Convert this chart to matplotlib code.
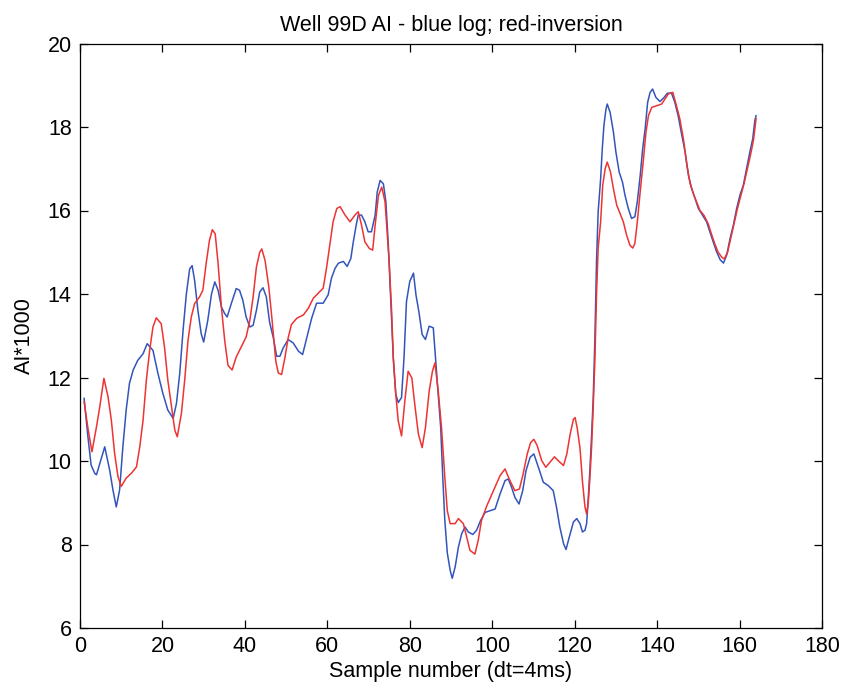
import matplotlib
matplotlib.use("Agg")
import matplotlib.pyplot as plt

# blue: well log AI (sample number, AI*1000)
log_x = [1, 1.9, 2.7, 3.6, 4.0, 4.8, 6.0, 7.2, 8.0, 8.8, 9.6, 10.4, 11.2, 12.0, 12.9, 14.0, 15.3, 16.3,
         17.7, 18.9, 20.1, 21.3, 22.6, 23.4, 24.2, 25.0, 25.8, 26.6, 27.2, 27.8, 28.6, 29.4, 30.0, 31.0,
         31.9, 32.7, 33.5, 34.3, 35.1, 35.7, 36.7, 37.9, 38.7, 39.5, 40.3, 41.2, 42.0, 42.8, 43.6, 44.4,
         45.2, 46.0, 46.9, 47.7, 48.5, 49.3, 50.5, 51.7, 53.0, 54.0, 55.0, 56.2, 57.4, 59.0, 60.2, 61.0,
         61.9, 62.7, 63.9, 64.8, 65.7, 66.3, 67.0, 67.5, 68.3, 69.1, 69.9, 70.7, 71.6, 72.1, 72.8, 73.6,
         74.2, 74.8, 75.4, 76.0, 76.6, 77.2, 78.0, 78.6, 79.2, 80.0, 80.9, 81.5, 82.2, 83.0, 83.8, 84.7,
         85.7, 86.3, 86.9, 87.5, 88.0, 88.5, 89.1, 89.8, 90.3, 91.0, 91.8, 92.6, 93.4, 94.2, 95.3, 96.2,
         97.2, 98.3, 99.5, 100.7, 101.9, 103.1, 103.9, 104.7, 105.5, 106.5, 107.4, 108.2, 109.2, 110.1,
         111.2, 112.4, 113.6, 114.8, 115.6, 116.4, 117.3, 117.9, 118.7, 119.7, 120.5, 121.3, 121.9, 122.5,
         122.9, 123.3, 123.7, 124.1, 124.5, 124.9, 125.3, 125.7, 126.3, 126.7, 127.1, 127.6, 127.9, 128.6,
         129.4, 130.0, 130.8, 131.6, 132.2, 133.0, 133.8, 134.6, 135.2, 135.9, 136.5, 137.1, 137.7, 138.3,
         138.9, 139.7, 140.7, 141.7, 142.5, 143.5, 144.3, 145.1, 146.0, 146.8, 147.6, 148.4, 149.2, 150.0,
         151.0, 152.0, 152.8, 153.6, 154.4, 155.3, 156.1, 156.9, 157.7, 158.5, 159.3, 160.1, 160.9, 161.7,
         162.5, 163.2, 163.7, 164.0]
log_ai = [11.5, 10.6, 9.9, 9.7, 9.67, 9.94, 10.34, 9.78, 9.3, 8.9, 9.3, 10.34, 11.22, 11.86, 12.18, 12.41,
          12.57, 12.81, 12.65, 12.1, 11.62, 11.22, 11.02, 11.38, 12.1, 13.13, 14.0, 14.6, 14.68, 14.33,
          13.61, 13.05, 12.85, 13.37, 14.0, 14.29, 14.09, 13.69, 13.53, 13.45, 13.77, 14.13, 14.09, 13.85,
          13.45, 13.21, 13.25, 13.61, 14.05, 14.15, 13.93, 13.32, 12.95, 12.51, 12.51, 12.71, 12.91, 12.83,
          12.63, 12.55, 12.95, 13.42, 13.78, 13.78, 13.98, 14.38, 14.62, 14.74, 14.78, 14.66, 14.85, 15.25,
          15.65, 15.89, 15.89, 15.73, 15.49, 15.49, 15.89, 16.44, 16.72, 16.64, 16.21, 15.17, 13.82, 12.47,
          11.6, 11.4, 11.52, 12.47, 13.82, 14.3, 14.5, 13.98, 13.58, 13.03, 12.91, 13.23, 13.19, 12.39,
          11.6, 10.8, 9.61, 8.58, 7.8, 7.38, 7.19, 7.46, 7.94, 8.26, 8.42, 8.3, 8.24, 8.34, 8.58, 8.77,
          8.81, 8.85, 9.21, 9.53, 9.57, 9.37, 9.13, 8.97, 9.29, 9.77, 10.09, 10.17, 9.85, 9.49, 9.41, 9.29,
          8.89, 8.42, 8.02, 7.88, 8.18, 8.54, 8.62, 8.5, 8.3, 8.34, 8.5, 9.1, 9.8, 10.6, 11.5, 12.9, 14.78,
          15.97, 16.76, 17.48, 18.04, 18.43, 18.55, 18.35, 17.88, 17.4, 16.92, 16.68, 16.37, 16.05, 15.81,
          15.85, 16.21, 16.84, 17.48, 17.96, 18.59, 18.83, 18.91, 18.71, 18.61, 18.71, 18.81, 18.81, 18.59,
          18.27, 17.8, 17.4, 16.84, 16.52, 16.29, 16.05, 15.89, 15.73, 15.49, 15.25, 15.02, 14.82, 14.74,
          14.94, 15.33, 15.65, 16.05, 16.37, 16.6, 17.0, 17.4, 17.72, 18.15, 18.27]

# red: inversion result
inv_x = [1, 1.9, 2.9, 4.0, 4.8, 5.8, 6.8, 7.6, 8.4, 9.2, 10.0, 11.2, 12.5, 13.7, 14.5, 15.3, 16.1, 16.9,
         17.7, 18.5, 19.7, 20.5, 21.3, 22.2, 23.0, 23.6, 24.6, 25.4, 26.2, 27.0, 27.8, 29.0, 29.8, 30.6,
         31.4, 32.1, 32.8, 33.5, 34.3, 35.1, 35.9, 36.9, 37.9, 39.1, 40.3, 41.2, 42.0, 42.8, 43.6, 44.1,
         44.9, 45.8, 46.6, 47.5, 48.1, 48.9, 49.7, 50.5, 51.3, 52.6, 54.2, 55.4, 56.6, 57.8, 59.0, 59.8,
         60.6, 61.4, 62.3, 63.1, 64.3, 65.5, 66.7, 67.5, 68.3, 69.1, 70.2, 71.0, 71.6, 72.4, 73.2, 74.0,
         74.5, 75.0, 75.6, 76.0, 76.6, 77.2, 78.0, 78.8, 79.6, 80.5, 81.3, 82.1, 83.0, 83.8, 84.7, 85.5,
         86.1, 86.9, 87.7, 88.5, 89.1, 89.8, 91.0, 91.8, 93.0, 93.8, 94.6, 95.8, 96.6, 97.4, 98.7, 100.3,
         101.9, 103.1, 104.3, 105.5, 106.6, 107.5, 108.5, 109.3, 110.1, 110.9, 112.0, 113.0, 114.0, 115.1,
         116.0, 117.3, 118.1, 118.9, 119.7, 120.1, 120.6, 121.3, 121.9, 122.5, 122.9, 123.3, 123.7, 124.1,
         124.5, 124.9, 125.3, 125.7, 126.3, 126.8, 127.4, 127.9, 128.7, 129.4, 130.2, 131.0, 131.8, 132.6,
         133.4, 134.1, 134.6, 135.2, 135.9, 136.7, 137.3, 137.9, 138.7, 139.9, 141.1, 141.9, 142.7, 143.8,
         144.7, 145.5, 146.4, 147.2, 148.0, 148.8, 149.6, 150.4, 151.4, 152.4, 153.2, 154.0, 154.8, 155.7,
         156.3, 157.1, 157.9, 158.7, 159.5, 160.3, 161.1, 161.9, 162.7, 163.4, 164.0]
inv_ai = [11.42, 10.8, 10.22, 10.82, 11.3, 11.98, 11.54, 10.98, 10.18, 9.63, 9.39, 9.59, 9.71, 9.86, 10.34,
          10.98, 11.94, 12.65, 13.21, 13.43, 13.29, 12.73, 11.94, 11.3, 10.74, 10.58, 11.14, 11.94, 12.89,
          13.45, 13.77, 13.93, 14.09, 14.73, 15.28, 15.54, 15.44, 14.73, 13.69, 12.89, 12.29, 12.18, 12.49,
          12.73, 12.97, 13.37, 13.93, 14.65, 15.0, 15.08, 14.8, 14.17, 13.37, 12.39, 12.11, 12.07, 12.47,
          12.95, 13.27, 13.42, 13.5, 13.66, 13.9, 14.02, 14.14, 14.62, 15.17, 15.73, 16.05, 16.09, 15.89,
          15.73, 15.89, 15.97, 15.65, 15.25, 15.09, 15.05, 15.65, 16.36, 16.56, 16.21, 15.49, 14.77, 13.58,
          12.47, 11.6, 10.96, 10.6, 11.44, 12.15, 11.99, 11.28, 10.64, 10.32, 10.8, 11.67, 12.15, 12.35,
          11.67, 10.8, 9.61, 8.81, 8.5, 8.5, 8.62, 8.5, 8.18, 7.86, 7.77, 8.1, 8.58, 8.93, 9.29, 9.65, 9.81,
          9.53, 9.29, 9.33, 9.69, 10.17, 10.44, 10.52, 10.37, 10.01, 9.85, 9.97, 10.1, 10.01, 9.89, 10.17,
          10.64, 11.0, 11.04, 10.8, 10.3, 9.5, 8.9, 8.73, 9.0, 9.6, 10.33, 11.3, 12.39, 13.98, 15.1, 15.73,
          16.6, 17.0, 17.16, 16.92, 16.52, 16.13, 15.93, 15.73, 15.41, 15.17, 15.1, 15.21, 15.73, 16.45,
          17.24, 17.88, 18.27, 18.47, 18.51, 18.55, 18.67, 18.79, 18.83, 18.51, 18.2, 17.7, 17.1, 16.65,
          16.4, 16.2, 16.0, 15.88, 15.68, 15.43, 15.2, 15.0, 14.88, 14.84, 15.0, 15.35, 15.7, 16.05, 16.35,
          16.65, 17.0, 17.35, 17.7, 18.2]

x_ticks = list(range(0, 181, 20))
y_ticks = list(range(6, 21, 2))

plt.rcParams["font.family"] = ["Liberation Sans", "DejaVu Sans"]
fs = 15.5

fig = plt.figure(figsize=(8.44, 6.92), dpi=100)
ax = fig.add_axes([80 / 844, 64 / 692, 742 / 844, 584.5 / 692])
ax.plot(log_x, log_ai, color="#3355bb", lw=1.1)
ax.plot(inv_x, inv_ai, color="#ee3333", lw=1.1)
ax.set_xlim(0, 180)
ax.set_ylim(6, 20)
ax.set_xticks(x_ticks)
ax.set_yticks(y_ticks)
ax.tick_params(direction="in", top=True, right=True, length=6, width=0.9, labelsize=fs, pad=6)
for s in ax.spines.values():
    s.set_linewidth(0.9)
ax.set_title("Well 99D AI - blue log; red-inversion", fontsize=fs, pad=9)
ax.set_xlabel("Sample number (dt=4ms)", fontsize=fs, labelpad=3)
ax.set_ylabel("AI*1000", fontsize=fs, labelpad=9)
fig.savefig("out.png", dpi=100)
